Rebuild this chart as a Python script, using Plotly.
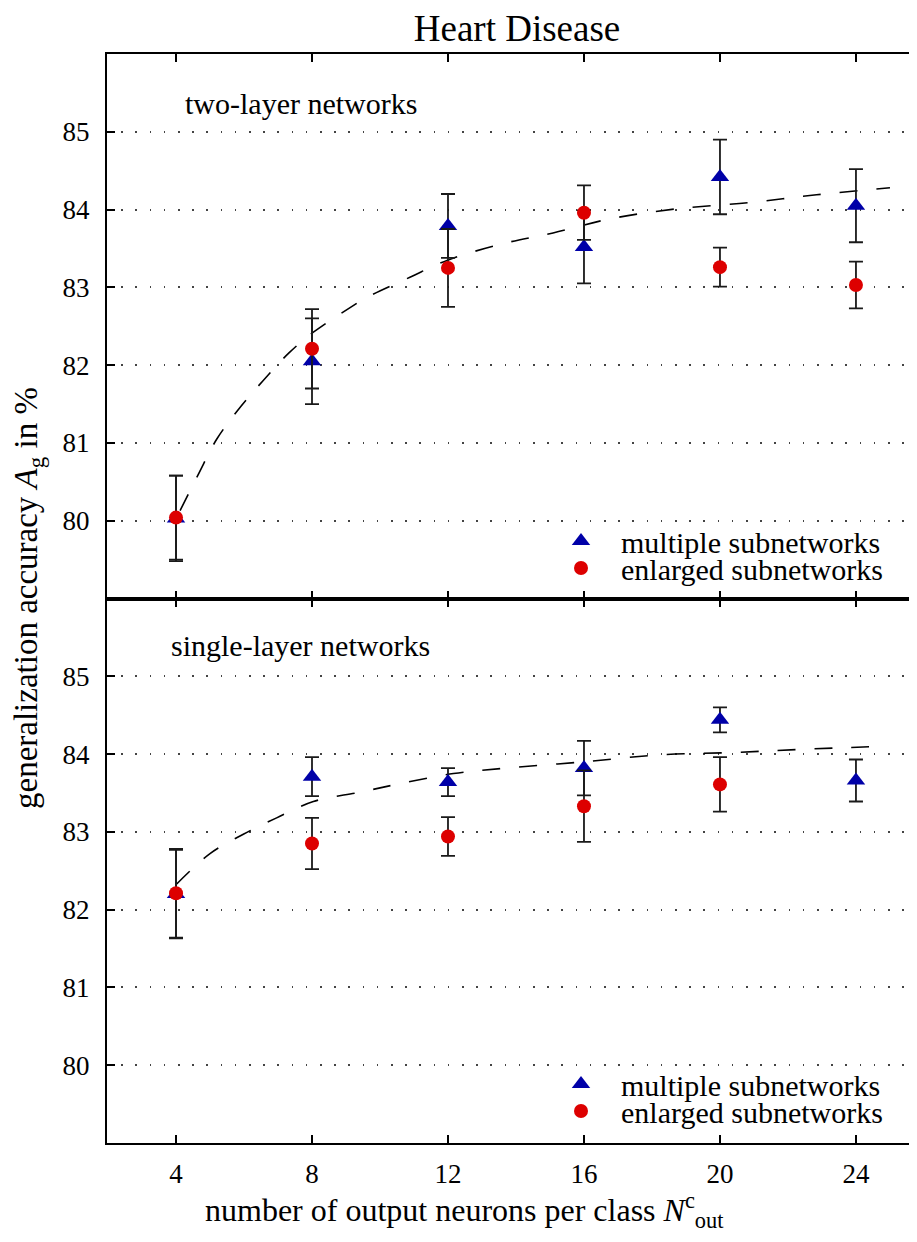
import plotly.graph_objects as go
from plotly.subplots import make_subplots

# ---------------- data ----------------
n_out = [4, 8, 12, 16, 20, 24]

# two-layer networks (top panel)
two_multi_y = [80.03, 82.05, 83.79, 83.52, 84.42, 84.05]
two_multi_err = [0.55, 0.55, 0.41, 0.47, 0.48, 0.47]
two_enl_y = [80.04, 82.21, 83.25, 83.96, 83.26, 83.03]
two_enl_err = [0.54, 0.51, 0.50, 0.35, 0.25, 0.30]
two_fit_x = [4.12, 4.66, 5.20, 5.80, 6.54, 7.33, 8.03, 9.12, 9.61, 10.88, 11.99,
             13.6, 15.09, 16.76, 18.73, 20.88, 22.84, 25.0]
two_fit_y = [80.13, 80.6, 81.05, 81.41, 81.79, 82.16, 82.42, 82.74, 82.87, 83.13,
             83.35, 83.56, 83.70, 83.88, 84.01, 84.09, 84.19, 84.28]

# single-layer networks (bottom panel)
one_multi_y = [82.2, 83.71, 83.64, 83.82, 84.44, 83.66]
one_multi_err = [0.57, 0.25, 0.18, 0.35, 0.16, 0.27]
one_enl_x = [4, 8, 12, 16, 20]
one_enl_y = [82.21, 82.85, 82.94, 83.33, 83.61]
one_enl_err = [0.57, 0.33, 0.25, 0.46, 0.35]
one_fit_x = [4.02, 5.0, 5.98, 6.96, 8.04, 9.41, 10.59, 12.16, 13.73, 15.98,
             18.24, 20.39, 22.35, 24.8]
one_fit_y = [82.33, 82.72, 82.97, 83.18, 83.39, 83.51, 83.62, 83.75, 83.82,
             83.90, 83.99, 84.02, 84.06, 84.10]

y_ticks = [80, 81, 82, 83, 84, 85]
x_ticks = [4, 8, 12, 16, 20, 24]

FONT = "'Liberation Serif', 'DejaVu Serif', serif"
BLUE = "#0000A8"
RED = "#DD0000"
ERRC = "#1a1a1a"

# page geometry (page = figure + 8px body margin)
W, H = 901, 1226
L, T, B = 99, 46, 91
PLOT_W = W - L
PLOT_H = H - T - B


def px(page_x):
    return (page_x - 8 - L) / PLOT_W


def py(page_y):
    return (H - B - (page_y - 8)) / PLOT_H


fig = make_subplots(rows=2, cols=1, shared_xaxes=True, vertical_spacing=0)


def add_panel(row, multi_x, multi_y, multi_err, enl_x, enl_y, enl_err, fx, fy, lg1, lg2):
    fig.add_trace(go.Scatter(x=fx, y=fy, mode="lines", line=dict(color="black", width=1.6,
                             dash="18px,19px", shape="spline"), showlegend=False,
                             hoverinfo="skip"), row=row, col=1)
    fig.add_trace(go.Scatter(x=multi_x, y=multi_y, mode="markers", name="multiple subnetworks",
                             marker=dict(symbol="triangle-up", size=16, color=BLUE),
                             error_y=dict(type="data", array=multi_err, color=ERRC,
                                          thickness=1.8, width=7),
                             legend=lg1), row=row, col=1)
    fig.add_trace(go.Scatter(x=enl_x, y=enl_y, mode="markers", name="enlarged subnetworks",
                             marker=dict(symbol="circle", size=14, color=RED),
                             error_y=dict(type="data", array=enl_err, color=ERRC,
                                          thickness=1.8, width=7),
                             legend=lg2), row=row, col=1)


add_panel(1, n_out, two_multi_y, two_multi_err, n_out, two_enl_y, two_enl_err,
          two_fit_x, two_fit_y, "legend", "legend2")
add_panel(2, n_out, one_multi_y, one_multi_err, one_enl_x, one_enl_y, one_enl_err,
          one_fit_x, one_fit_y, "legend3", "legend4")

xcommon = dict(range=[1.97, 25.56], tickvals=x_ticks, ticks="inside", ticklen=8,
               tickwidth=1.5, tickcolor="black", showline=True, linewidth=2,
               linecolor="black", mirror="ticks", showgrid=False, zeroline=False)
fig.update_xaxes(**xcommon)
fig.update_xaxes(showticklabels=False, row=1, col=1)
fig.update_xaxes(showticklabels=True, tickfont=dict(family=FONT, size=27, color="black"),
                 ticklabelstandoff=6, row=2, col=1)

ycommon = dict(range=[79, 86], tickvals=y_ticks, ticks="inside", ticklen=8, tickwidth=1.5,
               tickcolor="black", showline=True, linewidth=2, linecolor="black",
               mirror=False, showgrid=True, gridcolor="#444444", gridwidth=1.5,
               griddash="1.5px,12.7px", zeroline=False,
               tickfont=dict(family=FONT, size=27, color="black"), ticklabelstandoff=10)
fig.update_yaxes(**ycommon)
fig.update_layout(yaxis=dict(domain=[0.5, 1.0]), yaxis2=dict(domain=[0.0, 0.5]))

fig.add_annotation(text="two-layer networks", x=7.68, y=85.36, xref="x", yref="y",
                   showarrow=False, font=dict(family=FONT, size=30, color="black"))
fig.add_annotation(text="single-layer networks", x=7.65, y=85.39, xref="x2", yref="y2",
                   showarrow=False, font=dict(family=FONT, size=30, color="black"))
fig.add_annotation(text="generalization accuracy <i>A</i><sub>g</sub> in %",
                   x=px(28), y=py(598), xref="paper", yref="paper", xanchor="center",
                   yanchor="middle", textangle=-90, showarrow=False,
                   font=dict(family=FONT, size=33, color="black"))
fig.add_annotation(text="number of output neurons per class <i>N</i><sup>c</sup><sub>out</sub>",
                   x=px(464), y=py(1210), xref="paper", yref="paper", xanchor="center",
                   yanchor="middle", showarrow=False,
                   font=dict(family=FONT, size=32, color="black"))

legstyle = dict(font=dict(family=FONT, size=30, color="black"), bgcolor="rgba(0,0,0,0)",
                xanchor="left", yanchor="middle", itemsizing="trace", itemwidth=70)
fig.update_layout(
    legend=dict(x=px(541), y=py(541), **legstyle),
    legend2=dict(x=px(541), y=py(568), **legstyle),
    legend3=dict(x=px(541), y=py(1084), **legstyle),
    legend4=dict(x=px(541), y=py(1111), **legstyle),
    title=dict(text="Heart Disease", x=(517 - 8) / W, xanchor="center", y=1 - 7 / H,
               yanchor="top", font=dict(family=FONT, size=37, color="black")),
    width=W, height=H,
    margin=dict(l=L, r=0, t=T, b=B),
    plot_bgcolor="white", paper_bgcolor="white",
    font=dict(family=FONT, color="black"),
)

fig.write_html("out.html")
